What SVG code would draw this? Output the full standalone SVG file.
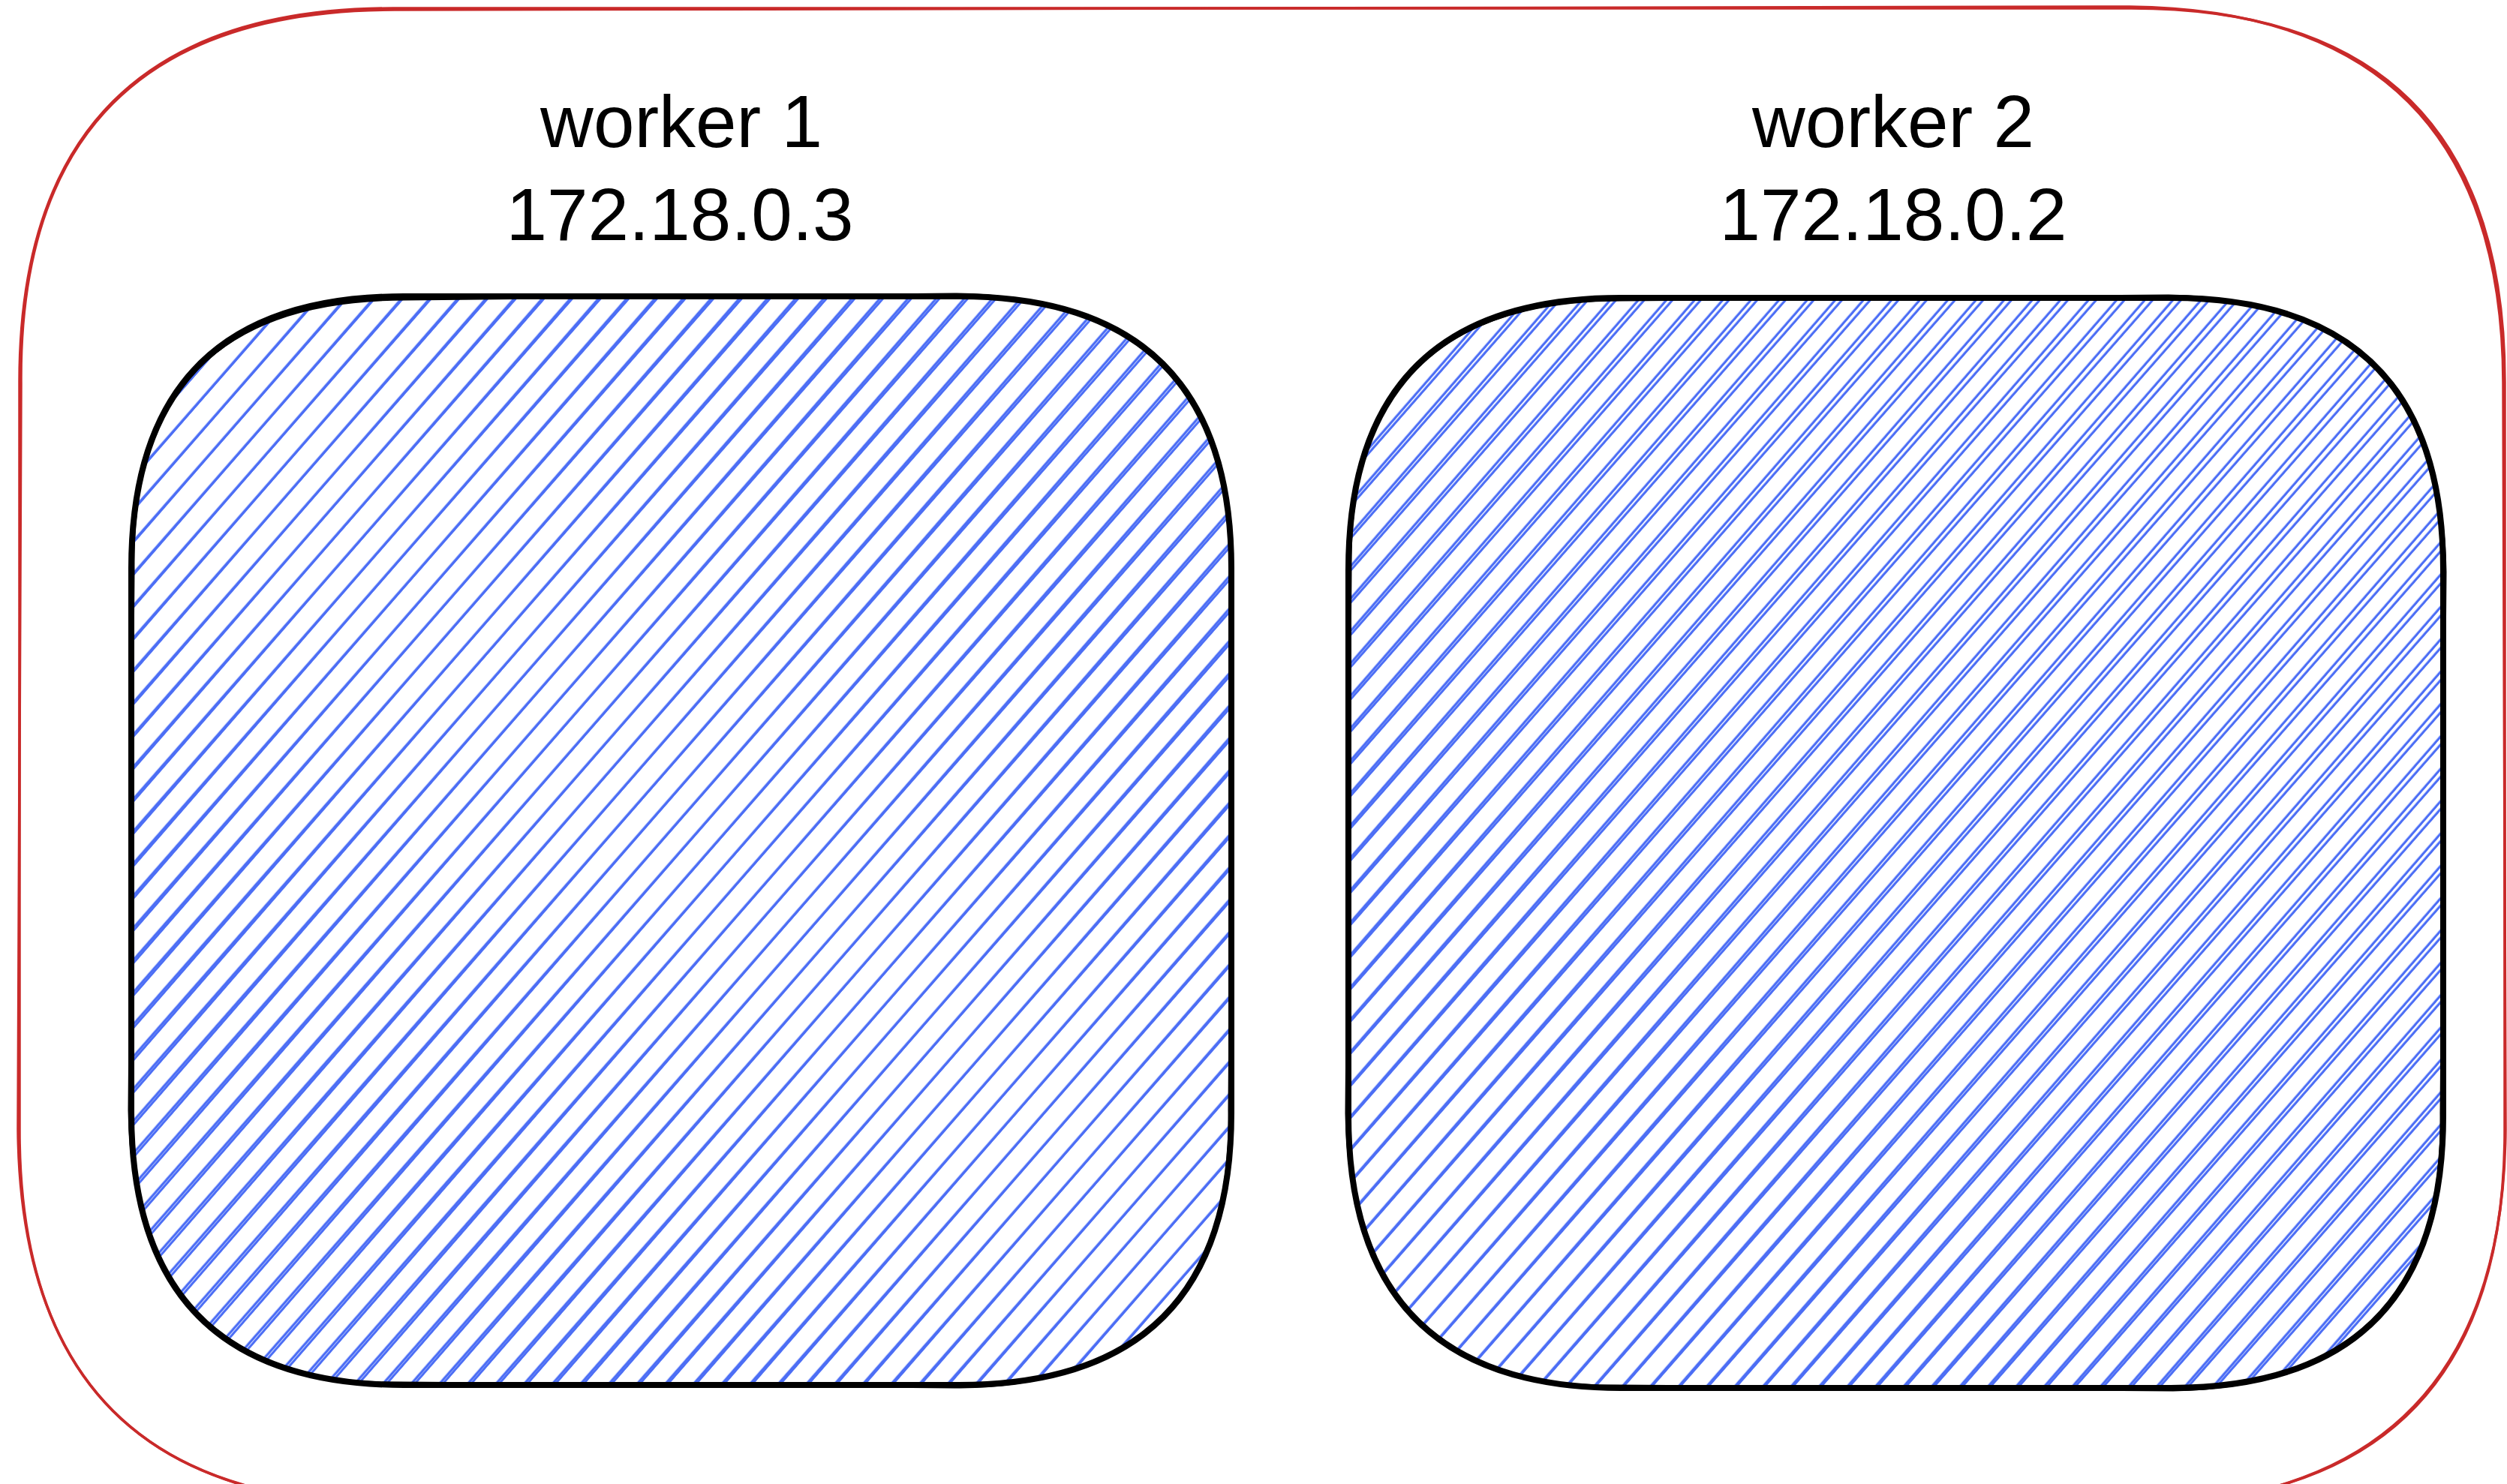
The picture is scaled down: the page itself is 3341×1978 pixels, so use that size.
<svg xmlns="http://www.w3.org/2000/svg" width="3341" height="1978" viewBox="0 0 3341 1978">
  <style>
    .outer { fill: none; stroke: #c92a2a; stroke-width: 3.5; }
    .box { stroke: #000; stroke-width: 8; stroke-linejoin: round; }
    .box2 { fill: none; stroke: #000; stroke-width: 3; }
    .label { font-family: "Liberation Sans", Arial, sans-serif; font-size: 98px; fill: #000; text-anchor: middle; }
    .hatch { stroke: #4c6ef5; stroke-width: 3.2; stroke-linecap: round; }
  </style>
  <defs>
    <pattern id="hatchA" patternUnits="userSpaceOnUse" width="200" height="28.3" patternTransform="rotate(-49)">
      <line class="hatch" x1="0" y1="14" x2="200" y2="14"/>
    </pattern>
    <pattern id="hatchB" patternUnits="userSpaceOnUse" width="200" height="28.3" patternTransform="rotate(-48.75) translate(0 1)">
      <line class="hatch" x1="0" y1="14" x2="200" y2="14" stroke-width="2.2"/>
    </pattern>
  </defs>
  <rect width="3341" height="1978" fill="#ffffff"/>

  <g id="cluster">
    <path class="outer" d="M 524 11 L 2840 11 Q 3338 11 3338 509 L 3338 1507 Q 3338 2005 2840 2005 L 524 2005 Q 26 2005 26 1507 L 26 509 Q 26 11 524 11 Z"/>
    <path class="outer" stroke-width="1.5" d="M 526 13 L 2838 9 Q 3335 14 3336 511 L 3339 1505 Q 3336 2003 2838 2007 L 522 2003 Q 28 2007 24 1505 L 28 511 Q 24 13 526 13 Z"/>
  </g>

  <g id="worker1">
    <path fill="url(#hatchA)" stroke="none" d="M 538 395 L 1278 395 Q 1641 395 1641 758 L 1641 1483 Q 1641 1846 1278 1846 L 538 1846 Q 175 1846 175 1483 L 175 758 Q 175 395 538 395 Z"/>
    <path fill="url(#hatchB)" stroke="none" d="M 538 395 L 1278 395 Q 1641 395 1641 758 L 1641 1483 Q 1641 1846 1278 1846 L 538 1846 Q 175 1846 175 1483 L 175 758 Q 175 395 538 395 Z"/>
    <path class="box" fill="none" d="M 538 395 L 1278 395 Q 1641 395 1641 758 L 1641 1483 Q 1641 1846 1278 1846 L 538 1846 Q 175 1846 175 1483 L 175 758 Q 175 395 538 395 Z"/>
    <path class="box2" d="M 540 399 L 1275 392 Q 1638 398 1643 760 L 1638 1480 Q 1644 1843 1280 1849 L 535 1843 Q 178 1849 172 1480 L 178 760 Q 172 399 540 399 Z"/>
    <text class="label" x="908" y="196">worker 1</text>
    <text class="label" x="906" y="320">172.18.0.3</text>
  </g>

  <g id="worker2">
    <path fill="url(#hatchA)" stroke="none" d="M 2160 397 L 2893 397 Q 3256 397 3256 760 L 3256 1487 Q 3256 1850 2893 1850 L 2160 1850 Q 1797 1850 1797 1487 L 1797 760 Q 1797 397 2160 397 Z"/>
    <path fill="url(#hatchB)" stroke="none" d="M 2160 397 L 2893 397 Q 3256 397 3256 760 L 3256 1487 Q 3256 1850 2893 1850 L 2160 1850 Q 1797 1850 1797 1487 L 1797 760 Q 1797 397 2160 397 Z"/>
    <path class="box" fill="none" d="M 2160 397 L 2893 397 Q 3256 397 3256 760 L 3256 1487 Q 3256 1850 2893 1850 L 2160 1850 Q 1797 1850 1797 1487 L 1797 760 Q 1797 397 2160 397 Z"/>
    <path class="box2" d="M 2162 400 L 2890 394 Q 3253 400 3259 762 L 3253 1484 Q 3259 1847 2896 1853 L 2157 1847 Q 1800 1853 1794 1484 L 1800 762 Q 1794 400 2162 400 Z"/>
    <text class="label" x="2523" y="196">worker 2</text>
    <text class="label" x="2523" y="320">172.18.0.2</text>
  </g>

  <g id="connectors"></g>
</svg>
